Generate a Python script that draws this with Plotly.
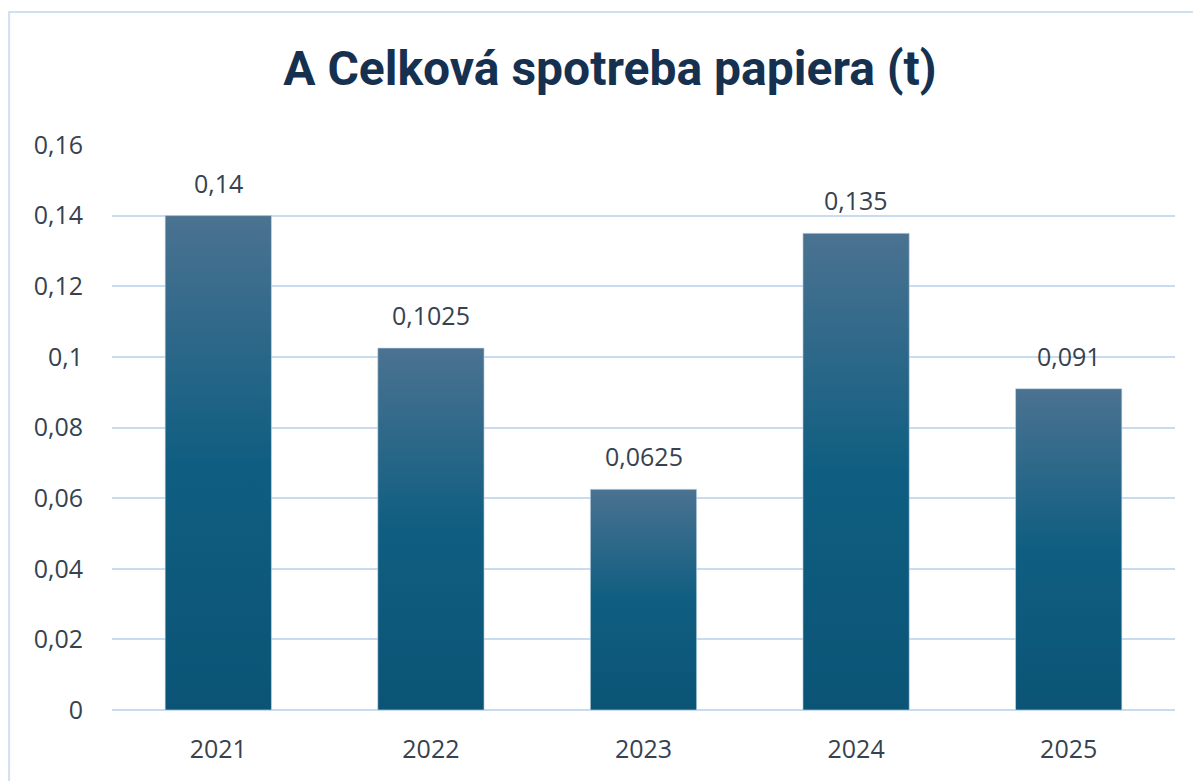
import plotly.graph_objects as go

years = ["2021", "2022", "2023", "2024", "2025"]
values = [0.14, 0.1025, 0.0625, 0.135, 0.091]
value_labels = ["0,14", "0,1025", "0,0625", "0,135", "0,091"]
y_ticks = [0, 0.02, 0.04, 0.06, 0.08, 0.1, 0.12, 0.14, 0.16]
y_ticktext = ["0", "0,02", "0,04", "0,06", "0,08", "0,1", "0,12", "0,14", "0,16"]
title_text = "A Celková spotreba papiera (t)"

BAR_W = 0.5
GRID = "#c8dbef"
TXT = "#36424f"
FONT = "Open Sans, sans-serif"

fig = go.Figure()

# invisible bar trace carrying the data
fig.add_trace(go.Bar(
    x=list(range(len(years))), y=values, width=BAR_W,
    marker=dict(color="rgba(0,0,0,0)", line=dict(width=0)),
    hoverinfo="skip", showlegend=False,
))

# gradient-filled bars
for i, v in enumerate(values):
    fig.add_trace(go.Scatter(
        x=[i - BAR_W / 2, i + BAR_W / 2, i + BAR_W / 2, i - BAR_W / 2, i - BAR_W / 2],
        y=[0, 0, v, v, 0],
        mode="lines", fill="toself",
        line=dict(color="rgba(200,220,235,0.6)", width=1),
        fillgradient=dict(
            type="vertical",
            colorscale=[[0, "#0b5476"], [0.5, "#0f5e81"], [1, "#4b7291"]],
        ),
        hoverinfo="skip", showlegend=False,
    ))

for i, (v, lab) in enumerate(zip(values, value_labels)):
    fig.add_annotation(
        x=i, y=v, text=lab, showarrow=False, yanchor="bottom", yshift=14,
        font=dict(family=FONT, size=25, color=TXT),
    )

fig.add_shape(
    type="rect", xref="paper", yref="paper",
    x0=-0.0968, x1=1.2, y0=-0.4, y1=1.2354,
    line=dict(color="#cfe0f2", width=2), fillcolor="rgba(0,0,0,0)", layer="below",
)

fig.update_layout(
    width=1193, height=773,
    margin=dict(l=104, r=26, t=137, b=71),
    paper_bgcolor="white", plot_bgcolor="white",
    title=dict(
        text=title_text, x=0.5046, xanchor="center", y=0.9224, yanchor="middle",
        font=dict(family="Roboto, sans-serif", size=48, color="#163050", weight="bold"),
    ),
    showlegend=False,
    xaxis=dict(
        range=[-0.5, len(years) - 0.5],
        tickvals=list(range(len(years))), ticktext=years,
        showgrid=False, zeroline=False, showline=False,
        ticks="", ticklabelstandoff=22,
        tickfont=dict(family=FONT, size=25, color=TXT),
    ),
    yaxis=dict(
        range=[0, 0.16], tickvals=y_ticks, ticktext=y_ticktext,
        showgrid=True, gridcolor=GRID, gridwidth=2,
        zeroline=True, zerolinecolor=GRID, zerolinewidth=2,
        showline=False, ticks="", ticklabelstandoff=28,
        tickfont=dict(family=FONT, size=25, color=TXT),
    ),
)

fig.write_html("out.html")
